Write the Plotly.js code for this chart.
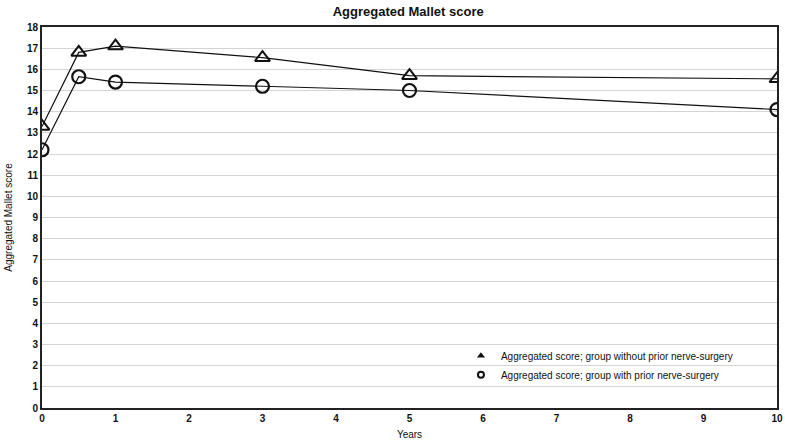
<!DOCTYPE html>
<html><head><meta charset="utf-8">
<script src="https://cdn.plot.ly/plotly-3.0.1.min.js"></script>
<style>html,body{margin:0;padding:0;background:#fff}</style>
</head><body>
<div id="chart" style="width:785px;height:446px"></div>
<script>
const years = [0, 0.5, 1, 3, 5, 10];
const withoutPrior = [13.3, 16.8, 17.1, 16.55, 15.7, 15.55];
const withPrior = [12.2, 15.65, 15.4, 15.2, 15.0, 14.1];
const xTicks = [0,1,2,3,4,5,6,7,8,9,10];
const yTicks = [0,1,2,3,4,5,6,7,8,9,10,11,12,13,14,15,16,17,18];
const seriesNames = ["Aggregated score; group without prior nerve-surgery", "Aggregated score; group with prior nerve-surgery"];

const font = {family: "Liberation Sans, Arial, sans-serif", color: "#111"};
const traces = [
  {x: years, y: withoutPrior, name: seriesNames[0], mode: "lines+markers", showlegend: false,
   line: {color: "#111", width: 1.2},
   marker: {symbol: "triangle-up-open", size: 13, color: "#111", line: {width: 2, color: "#111"}}},
  {x: years, y: withPrior, name: seriesNames[1], mode: "lines+markers", showlegend: false,
   line: {color: "#111", width: 1.2},
   marker: {symbol: "circle-open", size: 13, color: "#111", line: {width: 2.2, color: "#111"}}},
  {x: [null], y: [null], name: seriesNames[0], mode: "markers",
   marker: {symbol: "triangle-up", size: 7, color: "#111", line: {width: 0}}},
  {x: [null], y: [null], name: seriesNames[1], mode: "markers",
   marker: {symbol: "circle-open", size: 6, color: "#111", line: {width: 2, color: "#111"}}}
];
const layout = {
  width: 785, height: 446,
  margin: {l: 42, r: 8, t: 27, b: 38},
  paper_bgcolor: "#fff", plot_bgcolor: "#fff",
  font: font,
  title: {text: "<b>Aggregated Mallet score</b>", font: {size: 13, family: font.family, color: "#111"}, x: 0.52, xanchor: "center", y: 0.985, yanchor: "top"},
  showlegend: true,
  legend: {x: 0.57, y: 0.175, xanchor: "left", yanchor: "top", bgcolor: "rgba(0,0,0,0)",
    font: {size: 10, family: font.family, color: "#111"}, itemsizing: "trace", itemwidth: 30, tracegroupgap: 4},
  xaxis: {range: [0, 10], tickvals: xTicks, ticktext: xTicks.map(String), showgrid: false, zeroline: false,
    showline: true, linecolor: "#222", linewidth: 2, mirror: true, ticks: "",
    tickfont: {size: 10, weight: "bold", family: font.family, color: "#111"},
    title: {text: "Years", font: {size: 10, family: font.family, color: "#111"}, standoff: 8}},
  yaxis: {range: [0, 18], tickvals: yTicks, ticktext: yTicks.map(String), showgrid: true, gridcolor: "#d4d4d4", gridwidth: 1,
    zeroline: false, showline: true, linecolor: "#222", linewidth: 2, mirror: true, ticks: "",
    tickfont: {size: 10, weight: "bold", family: font.family, color: "#111"},
    title: {text: "Aggregated Mallet score", font: {size: 10, family: font.family, color: "#111"}, standoff: 12}}
};
Plotly.newPlot("chart", traces, layout, {displayModeBar: false, staticPlot: true});
</script>
</body></html>
